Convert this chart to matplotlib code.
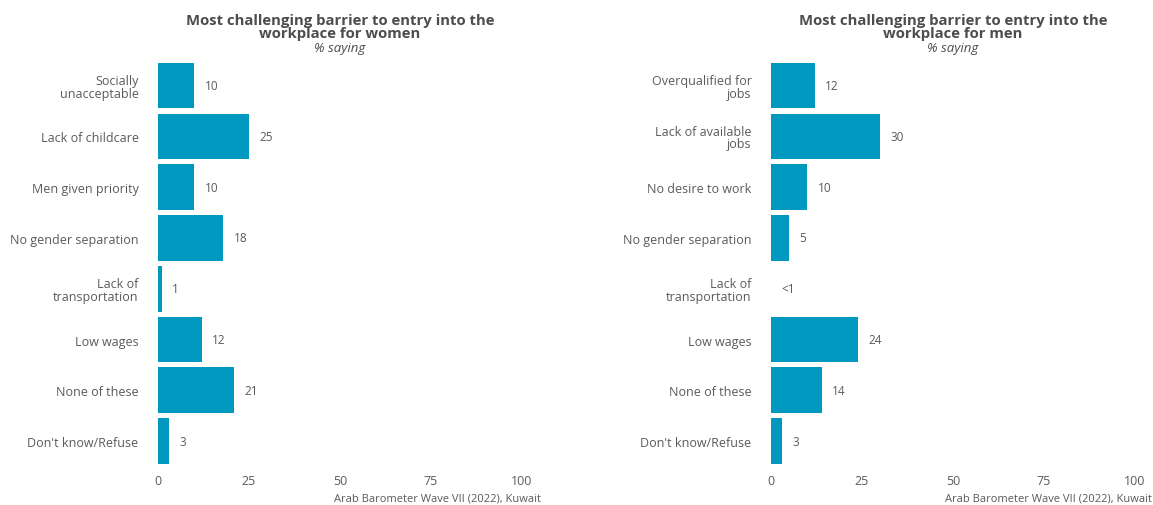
import matplotlib.pyplot as plt
import numpy as np

plt.rcParams['font.family'] = ['Open Sans', 'DejaVu Sans']

# data
women_cats = ['Socially\nunacceptable', 'Lack of childcare', 'Men given priority',
              'No gender separation', 'Lack of\ntransportation', 'Low wages',
              'None of these', "Don't know/Refuse"]
women_vals = [10, 25, 10, 18, 1, 12, 21, 3]
women_labels = ['10', '25', '10', '18', '1', '12', '21', '3']

men_cats = ['Overqualified for\njobs', 'Lack of available\njobs', 'No desire to work',
            'No gender separation', 'Lack of\ntransportation', 'Low wages',
            'None of these', "Don't know/Refuse"]
men_vals = [12, 30, 10, 5, 0, 24, 14, 3]
men_labels = ['12', '30', '10', '5', '<1', '24', '14', '3']

xticks = [0, 25, 50, 75, 100]
bar_color = '#0098BF'
txt_color = '#5a5a5a'

fig = plt.figure(figsize=(11.53, 5.06), dpi=100)

panels = [
    (0.137, women_cats, women_vals, women_labels,
     'Most challenging barrier to entry into the\nworkplace for women', 0.469),
    (0.6687, men_cats, men_vals, men_labels,
     'Most challenging barrier to entry into the\nworkplace for men', 0.9995),
]

for left, cats, vals, labels, title, cap_x in panels:
    ax = fig.add_axes([left, 0.066, 0.3157, 0.823])
    y = np.arange(len(cats))
    ax.barh(y, vals, height=0.9, color=bar_color)
    for yi, v, lab in zip(y, vals, labels):
        ax.text(v + 2.8, yi, lab, va='center', ha='left', fontsize=8.5, color=txt_color)
    ax.set_yticks(y)
    ax.set_yticklabels(cats, fontsize=9, color=txt_color, linespacing=0.95)
    ax.set_xticks(xticks)
    ax.set_xticklabels([str(t) for t in xticks], fontsize=9, color=txt_color)
    ax.set_xlim(0, 100)
    ax.set_ylim(7.6, -0.6)
    ax.tick_params(length=0, pad=2)
    ax.tick_params(axis='y', pad=14)
    for s in ax.spines.values():
        s.set_visible(False)
    cx = left + 0.3157 / 2
    fig.text(cx, 0.946, title, ha='center', va='center', fontsize=10.7,
             fontweight='bold', color='#4d4d4d', linespacing=0.9)
    fig.text(cx, 0.904, '% saying', ha='center', va='center', fontsize=9.5,
             style='italic', color='#4d4d4d')
    fig.text(cap_x, 0.014, 'Arab Barometer Wave VII (2022), Kuwait', ha='right',
             va='center', fontsize=8, color=txt_color)

fig.savefig('out.png', dpi=100)
